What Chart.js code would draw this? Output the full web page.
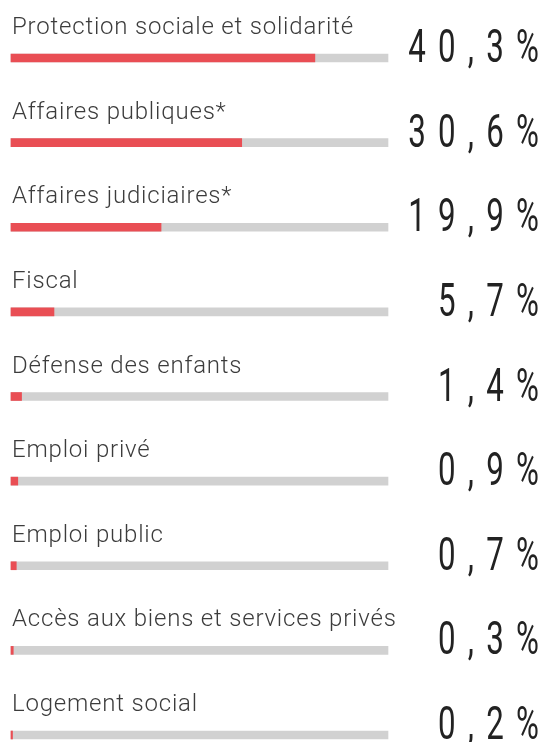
<!DOCTYPE html>
<html>
<head>
<meta charset="utf-8">
<script src="https://cdn.jsdelivr.net/npm/chart.js@4"></script>
<style>
  html, body { margin: 0; padding: 0; background: #fff; }
  #wrap { width: 543px; height: 742px; }
</style>
</head>
<body>
<div id="wrap"><canvas id="myChart" width="543" height="742"></canvas></div>
<script>
const categories = [
    'Protection sociale et solidarité',
    'Affaires publiques*',
    'Affaires judiciaires*',
    'Fiscal',
    'Défense des enfants',
    'Emploi privé',
    'Emploi public',
    'Accès aux biens et services privés',
    'Logement social'
];
const shares = [40.3, 30.6, 19.9, 5.7, 1.4, 0.9, 0.7, 0.3, 0.2];
const axisMax = 50;
const track = categories.map(() => axisMax);

const formatPct = function (v) {
    return v.toFixed(1).replace('.', ',') + '%';
};

// labels above the bars + big numbers on the right
const textPlugin = {
    id: 'rowText',
    afterDatasetsDraw(chart) {
        const ctx = chart.ctx;
        const meta = chart.getDatasetMeta(0);
        const left = chart.chartArea.left;
        ctx.save();
        meta.data.forEach(function (bar, i) {
            const y = bar.y;
            ctx.font = '300 24px Roboto';
            ctx.letterSpacing = '0.8px';
            ctx.fillStyle = '#3c3c3c';
            ctx.textAlign = 'left';
            ctx.textBaseline = 'alphabetic';
            ctx.fillText(categories[i], left + 1, y - 24);
            ctx.letterSpacing = '0px';

            // condensed, spaced-out value
            const chars = formatPct(shares[i]).split('');
            const sx = 0.68;
            const gap = 18;
            ctx.font = '400 46px Roboto';
            ctx.fillStyle = '#222';
            let widths = chars.map(c => ctx.measureText(c).width);
            let total = widths.reduce((a, b) => a + b, 0) + gap * (chars.length - 1);
            ctx.save();
            ctx.translate(539, y + 4);
            ctx.scale(sx, 1);
            let x = -total;
            chars.forEach(function (c, k) {
                ctx.fillText(c, x, 0);
                x += widths[k] + gap;
            });
            ctx.restore();
        });
        ctx.restore();
    }
};

document.addEventListener('DOMContentLoaded', function () {
    let ctx = document.getElementById('myChart').getContext('2d');

    let chart = new Chart(ctx, {
        type: 'bar',
        data: {
            labels: categories,
            datasets: [
                {
                    data: shares,
                    backgroundColor: '#e94e54',
                    barThickness: 8,
                    grouped: false,
                    clip: false
                },
                {
                    data: track,
                    backgroundColor: '#d1d1d1',
                    barThickness: 8,
                    grouped: false,
                    clip: false
                }
            ]
        },
        options: {
            indexAxis: 'y',
            responsive: false,
            animation: false,
            layout: { padding: { left: 11, right: 155, top: 58, bottom: 7 } },
            scales: {
                x: { display: false, min: 0, max: axisMax },
                y: { display: false, offset: false }
            },
            plugins: {
                legend: { display: false },
                tooltip: { enabled: false }
            }
        },
        plugins: [textPlugin]
    });
});
</script>
</body>
</html>
